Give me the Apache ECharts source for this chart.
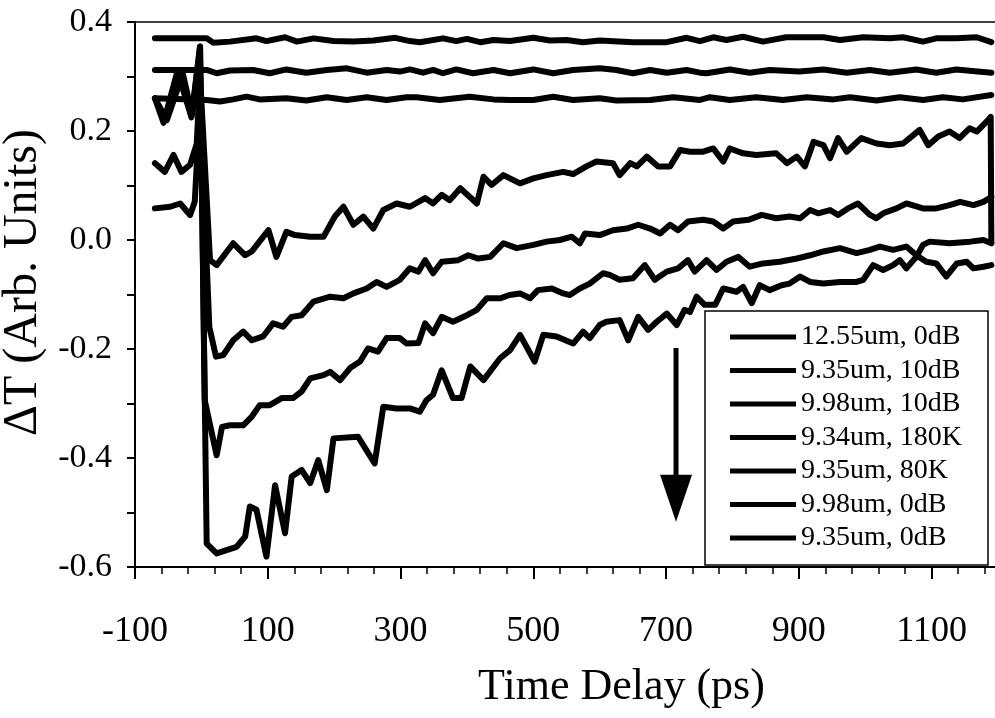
<!DOCTYPE html>
<html><head><meta charset="utf-8">
<script src="https://cdn.jsdelivr.net/npm/echarts@6/dist/echarts.min.js"></script>
<style>html,body{margin:0;padding:0;background:#fff}#c{width:995px;height:718px}</style>
</head><body><div id="c"></div>
<script>
const FONT = "'Liberation Serif', 'Times New Roman', serif";

const seriesNames = ['12.55um, 0dB', '9.35um, 10dB', '9.98um, 10dB', '9.34um, 180K', '9.35um, 80K', '9.98um, 0dB', '9.35um, 0dB'];
const xTickLabels = ['-100', '100', '300', '500', '700', '900', '1100'];
const yTickLabels = ['-0.6', '-0.4', '-0.2', '0.0', '0.2', '0.4'];
const xTitle = 'Time Delay (ps)';
const yTitle = '\u0394T (Arb. Units)';

// [time delay (ps), ΔT]
const curve1 = [[-70,0.370],[8,0.370],[18,0.362],[43,0.364],[83,0.370],[98,0.365],[126,0.372],[144,0.364],[169,0.370],[199,0.365],[229,0.364],[259,0.366],[292,0.371],[314,0.365],[329,0.363],[364,0.370],[384,0.365],[400,0.369],[420,0.363],[440,0.367],[465,0.365],[500,0.371],[525,0.366],[550,0.367],[575,0.363],[600,0.366],[650,0.363],[701,0.363],[731,0.371],[751,0.365],[771,0.372],[791,0.367],[816,0.373],[846,0.364],[881,0.372],[937,0.372],[962,0.367],[997,0.372],[1037,0.370],[1057,0.372],[1087,0.364],[1107,0.370],[1137,0.370],[1168,0.372],[1190,0.363]];
const curve2 = [[-70,0.312],[8,0.312],[23,0.306],[43,0.311],[78,0.312],[103,0.306],[128,0.313],[158,0.307],[189,0.312],[219,0.315],[249,0.307],[279,0.312],[299,0.309],[314,0.313],[334,0.307],[349,0.312],[364,0.306],[384,0.313],[409,0.306],[440,0.312],[465,0.306],[500,0.313],[530,0.306],[560,0.312],[600,0.315],[625,0.312],[650,0.306],[676,0.312],[701,0.307],[731,0.312],[751,0.307],[761,0.306],[796,0.313],[826,0.307],[856,0.312],[901,0.309],[937,0.313],[972,0.307],[1007,0.312],[1037,0.307],[1077,0.313],[1107,0.307],[1137,0.313],[1190,0.307]];
const curve3 = [[-70,0.260],[8,0.257],[28,0.254],[48,0.258],[68,0.263],[88,0.258],[128,0.260],[158,0.256],[189,0.262],[219,0.257],[249,0.262],[279,0.257],[309,0.262],[324,0.262],[359,0.257],[404,0.263],[440,0.258],[465,0.257],[500,0.257],[530,0.263],[560,0.257],[600,0.260],[625,0.256],[676,0.257],[711,0.262],[751,0.257],[766,0.262],[796,0.257],[836,0.262],[876,0.257],[912,0.262],[952,0.258],[977,0.262],[1017,0.256],[1052,0.262],[1087,0.257],[1117,0.262],[1147,0.258],[1190,0.266]];
const curve4 = [[-70,0.141],[-55,0.125],[-42,0.156],[-30,0.125],[-17,0.138],[-7,0.177],[-2,0.30],[13,-0.037],[23,-0.046],[48,-0.006],[66,-0.028],[76,-0.021],[101,0.018],[113,-0.031],[128,0.015],[141,0.009],[164,0.006],[184,0.006],[201,0.043],[214,0.061],[229,0.028],[244,0.043],[259,0.021],[274,0.055],[294,0.067],[314,0.061],[337,0.077],[349,0.067],[362,0.083],[374,0.073],[390,0.095],[415,0.067],[425,0.116],[437,0.101],[455,0.119],[480,0.104],[500,0.113],[520,0.119],[545,0.125],[560,0.121],[580,0.135],[595,0.144],[620,0.141],[630,0.119],[646,0.141],[656,0.135],[671,0.153],[688,0.135],[706,0.135],[721,0.165],[736,0.162],[756,0.162],[771,0.168],[786,0.144],[796,0.168],[816,0.159],[836,0.156],[866,0.159],[882,0.141],[897,0.153],[909,0.135],[922,0.180],[937,0.174],[947,0.150],[959,0.187],[972,0.162],[994,0.187],[1017,0.177],[1037,0.174],[1057,0.177],[1067,0.187],[1082,0.202],[1095,0.174],[1110,0.190],[1127,0.199],[1142,0.187],[1157,0.205],[1168,0.199],[1185,0.220],[1189,0.226],[1190,-0.005]];
const curve5 = [[-70,0.058],[-47,0.061],[-32,0.067],[-17,0.046],[-10,0.070],[-2,0.25],[12,-0.160],[22,-0.214],[33,-0.211],[48,-0.184],[63,-0.168],[76,-0.184],[93,-0.177],[108,-0.153],[123,-0.159],[136,-0.141],[151,-0.138],[169,-0.113],[194,-0.104],[214,-0.107],[229,-0.098],[249,-0.089],[264,-0.077],[279,-0.086],[299,-0.073],[314,-0.052],[327,-0.058],[337,-0.037],[349,-0.061],[362,-0.040],[387,-0.037],[402,-0.028],[417,-0.034],[435,-0.031],[455,-0.006],[475,-0.015],[500,-0.009],[520,-0.003],[540,0.000],[558,0.006],[570,-0.006],[578,0.012],[600,0.009],[620,0.018],[641,0.021],[658,0.028],[676,0.021],[691,0.012],[706,0.028],[718,0.018],[733,0.034],[756,0.037],[771,0.034],[786,0.021],[801,0.034],[824,0.037],[844,0.046],[866,0.040],[886,0.043],[902,0.040],[917,0.055],[929,0.049],[947,0.055],[959,0.046],[974,0.058],[989,0.067],[1007,0.046],[1017,0.040],[1027,0.049],[1047,0.058],[1062,0.067],[1087,0.058],[1107,0.058],[1127,0.064],[1143,0.070],[1163,0.064],[1178,0.070],[1190,0.079]];
const curve6 = [[-70,0.260],[-57,0.215],[-36,0.310],[-15,0.225],[-2,0.355],[5,-0.294],[23,-0.395],[31,-0.343],[43,-0.340],[63,-0.340],[76,-0.324],[88,-0.303],[103,-0.303],[121,-0.290],[138,-0.290],[151,-0.278],[164,-0.254],[184,-0.248],[194,-0.242],[209,-0.257],[224,-0.235],[239,-0.223],[251,-0.199],[266,-0.205],[279,-0.180],[299,-0.180],[309,-0.190],[327,-0.189],[337,-0.153],[349,-0.171],[362,-0.141],[379,-0.150],[400,-0.138],[415,-0.128],[430,-0.107],[450,-0.107],[464,-0.101],[480,-0.098],[495,-0.107],[507,-0.092],[528,-0.089],[545,-0.098],[555,-0.101],[570,-0.089],[585,-0.080],[605,-0.061],[615,-0.064],[630,-0.073],[650,-0.070],[668,-0.046],[683,-0.073],[701,-0.058],[718,-0.052],[733,-0.037],[743,-0.058],[761,-0.037],[776,-0.055],[791,-0.040],[809,-0.031],[826,-0.049],[846,-0.043],[871,-0.040],[897,-0.034],[917,-0.028],[937,-0.021],[962,-0.015],[987,-0.024],[1007,-0.018],[1022,-0.012],[1042,-0.018],[1062,-0.012],[1077,-0.028],[1092,-0.040],[1107,-0.043],[1122,-0.067],[1138,-0.043],[1153,-0.040],[1163,-0.052],[1178,-0.049],[1190,-0.046]];
const curve7 = [[-70,0.260],[-52,0.220],[-28,0.305],[-14,0.230],[-2,0.355],[8,-0.557],[23,-0.575],[38,-0.569],[53,-0.563],[66,-0.544],[73,-0.489],[83,-0.495],[98,-0.581],[111,-0.450],[126,-0.538],[136,-0.434],[151,-0.422],[164,-0.446],[176,-0.404],[189,-0.459],[199,-0.364],[236,-0.361],[261,-0.410],[274,-0.306],[294,-0.309],[314,-0.309],[329,-0.315],[339,-0.294],[349,-0.284],[362,-0.239],[379,-0.290],[392,-0.290],[405,-0.232],[425,-0.257],[450,-0.217],[465,-0.202],[480,-0.174],[502,-0.223],[515,-0.174],[535,-0.177],[560,-0.190],[575,-0.168],[585,-0.180],[600,-0.156],[610,-0.150],[630,-0.147],[643,-0.184],[658,-0.141],[673,-0.165],[686,-0.150],[701,-0.135],[716,-0.156],[728,-0.128],[736,-0.132],[746,-0.104],[758,-0.119],[774,-0.119],[786,-0.089],[806,-0.095],[816,-0.086],[829,-0.116],[841,-0.083],[856,-0.092],[874,-0.083],[886,-0.080],[902,-0.067],[917,-0.077],[937,-0.080],[962,-0.077],[987,-0.077],[997,-0.073],[1012,-0.046],[1027,-0.055],[1042,-0.046],[1052,-0.037],[1062,-0.052],[1077,-0.031],[1087,-0.009],[1097,-0.003],[1127,-0.006],[1158,-0.003],[1178,0.000],[1190,-0.006]];
const curves = [curve1, curve2, curve3, curve4, curve5, curve6, curve7];

// downward arrow annotation (data units)
const arrowT = 715;
const arrowShaft = [-0.198, -0.45];
const arrowHeadCenter = -0.474;

const chart = echarts.init(document.getElementById('c'), null, {renderer: 'canvas'});

const lineSeries = curves.map((d, i) => ({
  name: seriesNames[i],
  type: 'line',
  data: d,
  showSymbol: false,
  symbol: 'none',
  silent: true,
  lineStyle: {color: '#000', width: 6, join: 'round', cap: 'round'},
  itemStyle: {color: '#000'},
  z: 3
}));

lineSeries.push({
  name: 'arrowShaft',
  type: 'line',
  data: arrowShaft.map(v => [arrowT, v]),
  showSymbol: false,
  symbol: 'none',
  silent: true,
  lineStyle: {color: '#000', width: 5},
  z: 3
});
lineSeries.push({
  name: 'arrowHead',
  type: 'scatter',
  data: [[arrowT, arrowHeadCenter]],
  symbol: 'triangle',
  symbolSize: [32, 47],
  symbolRotate: 180,
  silent: true,
  itemStyle: {color: '#000', opacity: 1},
  z: 3
});

const option = {
  animation: false,
  backgroundColor: '#fff',
  grid: {left: 135, top: 22, width: 863, height: 545, outerBoundsMode: 'none', containLabel: false, show: true, borderColor: '#000', borderWidth: 1.5, backgroundColor: 'transparent'},
  xAxis: {
    type: 'value', min: -100, max: 1200, interval: 200,
    name: xTitle, nameLocation: 'middle', nameGap: 98,
    nameTextStyle: {fontFamily: FONT, fontSize: 44, color: '#000', padding: [0, 0, 0, 110]},
    axisLine: {show: true, onZero: false, lineStyle: {color: '#000', width: 2}},
    axisTick: {show: true, length: 12, lineStyle: {color: '#000', width: 2}},
    minorTick: {show: true, splitNumber: 5, length: 7, lineStyle: {color: '#000', width: 1.5}},
    splitLine: {show: false},
    axisLabel: {
      show: true, margin: 47, showMaxLabel: false, color: '#000', fontFamily: FONT, fontSize: 36,
      formatter: v => { const s = String(Math.round(v)); return xTickLabels.includes(s) ? s : ''; }
    }
  },
  yAxis: {
    type: 'value', min: -0.6, max: 0.4, interval: 0.2,
    name: yTitle, nameLocation: 'middle', nameGap: 66, nameRotate: 90,
    nameTextStyle: {fontFamily: FONT, fontSize: 48, color: '#000', padding: [0, 0, 0, 24]},
    axisLine: {show: true, onZero: false, lineStyle: {color: '#000', width: 2}},
    axisTick: {show: true, length: 8, lineStyle: {color: '#000', width: 2}},
    minorTick: {show: true, splitNumber: 2, length: 8, lineStyle: {color: '#000', width: 2}},
    splitLine: {show: false},
    axisLabel: {
      show: true, margin: 23, color: '#000', fontFamily: FONT, fontSize: 34,
      formatter: v => { const r = Math.round(v * 10) / 10; const f = yTickLabels.find(l => Math.abs(Number(l) - r) < 1e-9); return f || ''; }
    }
  },
  legend: {
    data: seriesNames.map(n => ({name: n, icon: 'rect'})),
    orient: 'vertical', left: 705, top: 311,
    itemWidth: 66, itemHeight: 5, itemGap: 5.5,
    padding: [12, 26, 13, 25],
    borderColor: '#000', borderWidth: 1.5, backgroundColor: '#fff',
    selectedMode: false,
    itemStyle: {color: '#000'},
    textStyle: {fontFamily: FONT, fontSize: 28, color: '#000', lineHeight: 28}
  },
  series: lineSeries
};
chart.setOption(option);
</script>
</body></html>
